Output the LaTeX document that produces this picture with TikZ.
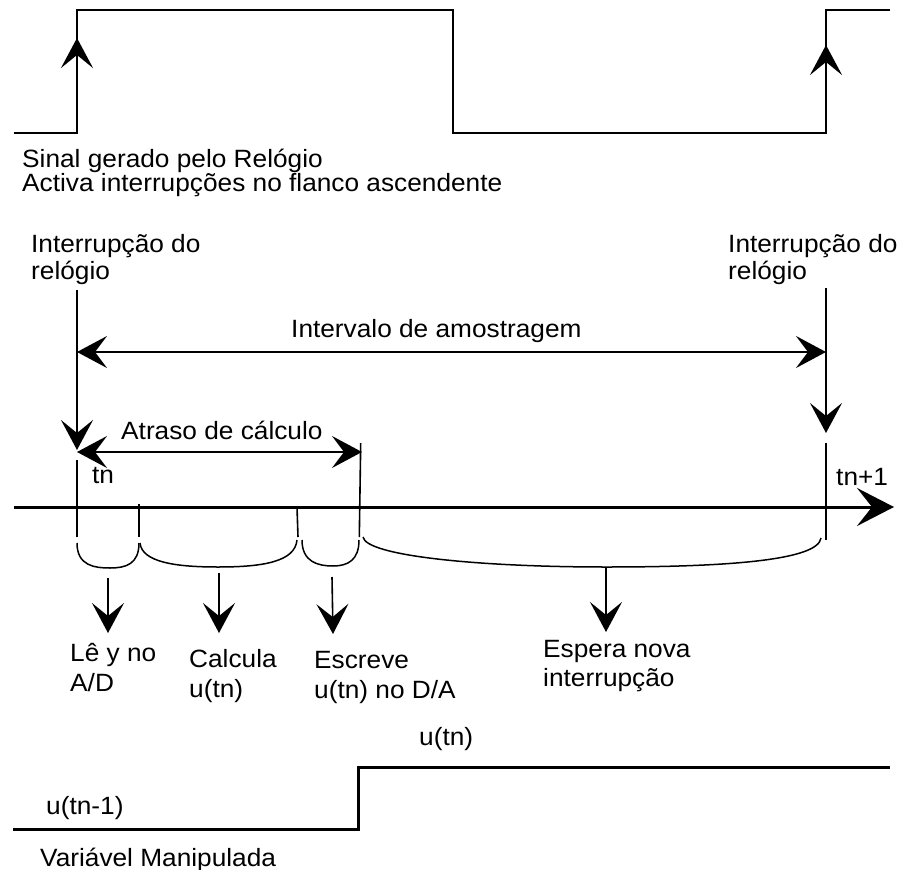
\documentclass[tikz,border=0pt]{standalone}
\usepackage{fontspec}
\setmainfont{Liberation Sans}[FakeStretch=1.05]
\usetikzlibrary{arrows.meta}
\begin{document}
\begin{tikzpicture}[x=1pt,y=-1pt,
  lbl/.style={anchor=base west, inner sep=0pt, align=left},
  fs/.style={font=\fontsize{25}{#1}\selectfont},
  sig/.style={line width=2.4pt},
  bsig/.style={line width=3pt},
  ln/.style={line width=1.6pt},
  brace/.style={line width=1.5pt},
  tipa/.style={-{Stealth[length=30pt,width=32pt,inset=13pt]}},
  dbl/.style={{Stealth[length=30pt,width=32pt,inset=12pt]}-{Stealth[length=30pt,width=32pt,inset=12pt]}},
  axtip/.style={-{Stealth[length=37pt,width=38pt,inset=15pt]}}
]
\useasboundingbox (0,0) rectangle (900,870);

% clock signal
\coordinate (c0) at (14,133);
\coordinate (c1) at (77,133);
\coordinate (c2) at (77,10);
\coordinate (c3) at (453,10);
\coordinate (c4) at (453,133);
\coordinate (c5) at (826,133);
\coordinate (c6) at (826,10);
\coordinate (c7) at (890,10);
\draw[sig] (c0) -- (c1) -- (c2) -- (c3) -- (c4) -- (c5) -- (c6) -- (c7);
\coordinate (ra1) at (77,100);
\coordinate (rt1) at (77,38);
\coordinate (ra2) at (826,100);
\coordinate (rt2) at (826,45);
\draw[sig,tipa] (ra1) -- (rt1);
\draw[sig,tipa] (ra2) -- (rt2);

\node[lbl,fs=24] (sinal) at (22,191) {Sinal gerado pelo Relógio\\Activa interrupções no flanco ascendente};

% interrupts
\node[lbl,fs=27] (intL) at (31,279) {Interrupção do\\relógio};
\node[lbl,fs=27] (intR) at (728,279) {Interrupção do\\relógio};

\coordinate (vL0) at (77,290);
\coordinate (vL1) at (77,450);
\coordinate (vL2) at (77,460);
\coordinate (vL3) at (77,537);
\coordinate (vR0) at (826,288);
\coordinate (vR1) at (826,433);
\coordinate (vR2) at (826,443);
\coordinate (vR3) at (826,540);
\draw[ln,tipa] (vL0) -- (vL1);
\draw[ln] (vL2) -- (vL3);
\draw[ln,tipa] (vR0) -- (vR1);
\draw[ln] (vR2) -- (vR3);

% sampling interval
\coordinate (iA) at (77,352);
\coordinate (iB) at (826,352);
\draw[ln,dbl] (iA) -- (iB);
\node[lbl,fs=28] (interv) at (291,337) {Intervalo de amostragem};

% computation delay
\coordinate (aA) at (77,452);
\coordinate (aB) at (362,452);
\draw[ln,dbl] (aA) -- (aB);
\node[lbl,fs=28] (atraso) at (121,439) {Atraso de cálculo};
\coordinate (d0) at (360.7,443);
\coordinate (d1) at (359.3,537);
\draw[ln] (d0) -- (d1);

\node[lbl,fs=28] (tn) at (92,483) {tn};
\node[lbl,fs=28] (tn1) at (836,485) {tn+1};

% time axis
\coordinate (ax0) at (14,507);
\coordinate (ax1) at (894,507);
\draw[bsig,axtip] (ax0) -- (ax1);

% ticks
\coordinate (t1a) at (139,504);
\coordinate (t1b) at (139,537);
\coordinate (t2a) at (297,507);
\coordinate (t2b) at (298,537);
\draw[ln] (t1a) -- (t1b);
\draw[ln] (t2a) -- (t2b);

% braces
\coordinate (b1s) at (77,543);
\coordinate (b1m) at (110,568);
\coordinate (b1e) at (139,543);
\draw[brace] (b1s) .. controls (77,566) and (95,568) .. (b1m) .. controls (126,568) and (139,564) .. (b1e);
\coordinate (b2s) at (140,543);
\coordinate (b2m) at (218,567);
\coordinate (b2e) at (297,540);
\draw[brace] (b2s) .. controls (142,562) and (175,567) .. (b2m) .. controls (262,567) and (295,562) .. (b2e);
\coordinate (b3s) at (302,540);
\coordinate (b3m) at (333,566);
\coordinate (b3e) at (359,540);
\draw[brace] (b3s) .. controls (302,562) and (318,566) .. (b3m) .. controls (348,566) and (359,560) .. (b3e);
\coordinate (b4s) at (363,537);
\coordinate (b4m) at (606,567);
\coordinate (b4e) at (821,538);
\draw[brace] (b4s) .. controls (366,556) and (480,567) .. (b4m) .. controls (730,567) and (818,560) .. (b4e);

% down arrows
\coordinate (p1a) at (108,578);
\coordinate (p1b) at (108,633);
\coordinate (p2a) at (219,573);
\coordinate (p2b) at (219,633);
\coordinate (p3a) at (332,577);
\coordinate (p3b) at (333,634);
\coordinate (p4a) at (606,567);
\coordinate (p4b) at (606,632);
\draw[ln,tipa] (p1a) -- (p1b);
\draw[ln,tipa] (p2a) -- (p2b);
\draw[ln,tipa] (p3a) -- (p3b);
\draw[ln,tipa] (p4a) -- (p4b);

\node[lbl,fs=30] (le) at (70,691) {Lê y no\\A/D};
\node[lbl,fs=30] (calc) at (189,697) {Calcula\\u(tn)};
\node[lbl,fs=30] (escr) at (314,698) {Escreve\\u(tn) no D/A};
\node[lbl,fs=29] (esp) at (543,686) {Espera nova\\interrupção};

% manipulated variable
\coordinate (m0) at (13,829);
\coordinate (m1) at (358,829);
\coordinate (m2) at (358,767);
\coordinate (m3) at (890,767);
\draw[bsig] (m0) -- (m1) -- (m2) -- (m3);
\node[lbl,fs=28] (utn) at (419,745) {u(tn)};
\node[lbl,fs=28] (utn1) at (46,814) {u(tn-1)};
\node[lbl,fs=28] (varm) at (40,866) {Variável Manipulada};
\end{tikzpicture}
\end{document}
